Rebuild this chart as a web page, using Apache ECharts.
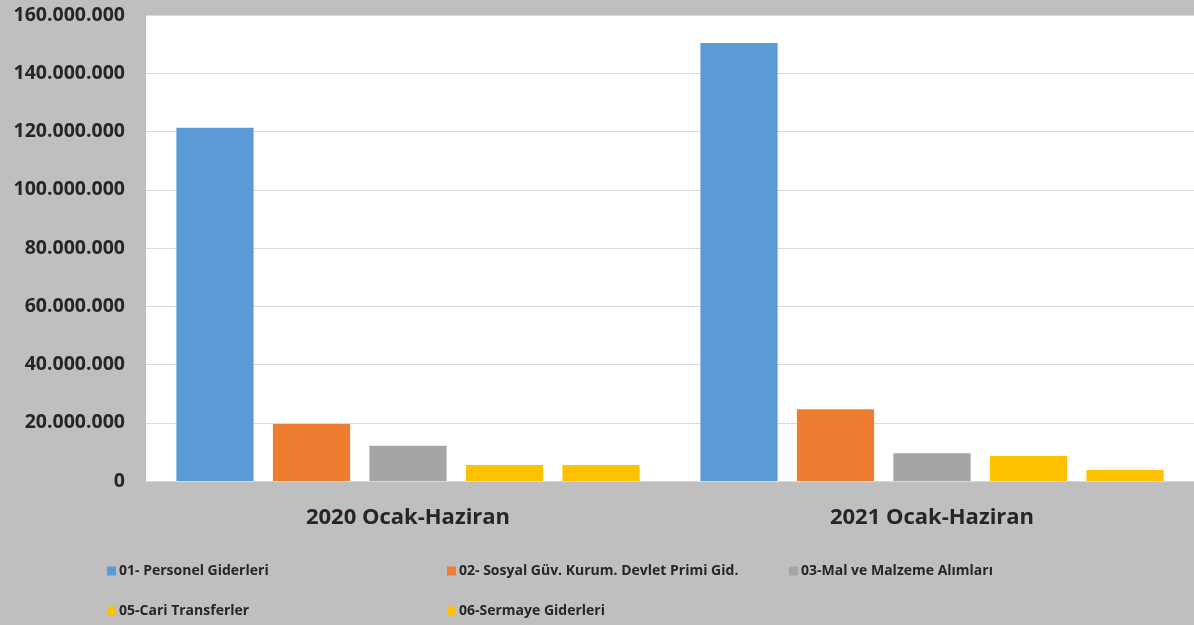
<!DOCTYPE html>
<html>
<head>
<meta charset="utf-8">
<script src="https://cdn.jsdelivr.net/npm/echarts@6/dist/echarts.min.js"></script>
<style>
  html, body { margin: 0; padding: 0; background: #bfbfbf; }
  #chart { width: 1194px; height: 625px; }
</style>
</head>
<body>
<div id="chart"></div>
<script>
var periods = ['2020 Ocak-Haziran', '2021 Ocak-Haziran']
var seriesNames = [
  '01- Personel Giderleri',
  '02- Sosyal Güv. Kurum. Devlet Primi Gid.',
  '03-Mal ve Malzeme Alımları',
  '05-Cari Transferler',
  '06-Sermaye Giderleri'
]
var personel = [121300000, 150400000]
var sosyal = [19600000, 24600000]
var malMalzeme = [12100000, 9500000]
var cariTransfer = [5500000, 8600000]
var sermaye = [5500000, 3800000]
var colors = ['#5b9bd5', '#ed7d31', '#a5a5a5', '#ffc000', '#ffc000']

var values = [personel, sosyal, malMalzeme, cariTransfer, sermaye]

// legend placement, like the excel layout (two rows)
var legendPos = [
  { left: 102, top: 559 },
  { left: 442, top: 559 },
  { left: 784, top: 559 },
  { left: 102, top: 599 },
  { left: 442, top: 599 }
]

function fmt(v) {
  return String(v).replace(/\B(?=(\d{3})+(?!\d))/g, '.')
}

var chart = echarts.init(document.getElementById('chart'))

chart.setOption({
  backgroundColor: '#bfbfbf',
  animation: false,
  color: colors,
  legend: seriesNames.map(function(name, i) {
    return {
      data: [name],
      left: legendPos[i].left,
      top: legendPos[i].top,
      icon: 'rect',
      itemWidth: 9,
      itemHeight: 9,
      itemGap: 0,
      textStyle: {
        color: '#262626',
        fontSize: 14,
        fontWeight: 'bold',
        fontFamily: 'Open Sans',
        padding: [0, 0, 0, -2]
      }
    }
  }),
  grid: {
    left: 146,
    right: 0,
    top: 15,
    bottom: 144,
    show: true,
    backgroundColor: '#ffffff',
    borderWidth: 0
  },
  xAxis: {
    type: 'category',
    data: periods,
    axisLine: { show: false },
    axisTick: { show: false },
    axisLabel: {
      color: '#262626',
      fontSize: 22,
      fontWeight: 'bold',
      fontFamily: 'Open Sans',
      margin: 26
    }
  },
  yAxis: {
    type: 'value',
    min: 0,
    max: 160000000,
    interval: 20000000,
    axisLine: { show: false },
    axisTick: { show: false },
    splitLine: { lineStyle: { color: '#d9d9d9', width: 1 } },
    axisLabel: {
      color: '#262626',
      fontSize: 19.5,
      fontWeight: 'bold',
      fontFamily: 'Open Sans',
      margin: 21,
      formatter: fmt
    }
  },
  series: seriesNames.map(function(name, i) {
    return {
      name: name,
      type: 'bar',
      data: values[i],
      barGap: '25%',
      barCategoryGap: '11.6%',
      itemStyle: { color: colors[i] }
    }
  })
})
</script>
</body>
</html>
